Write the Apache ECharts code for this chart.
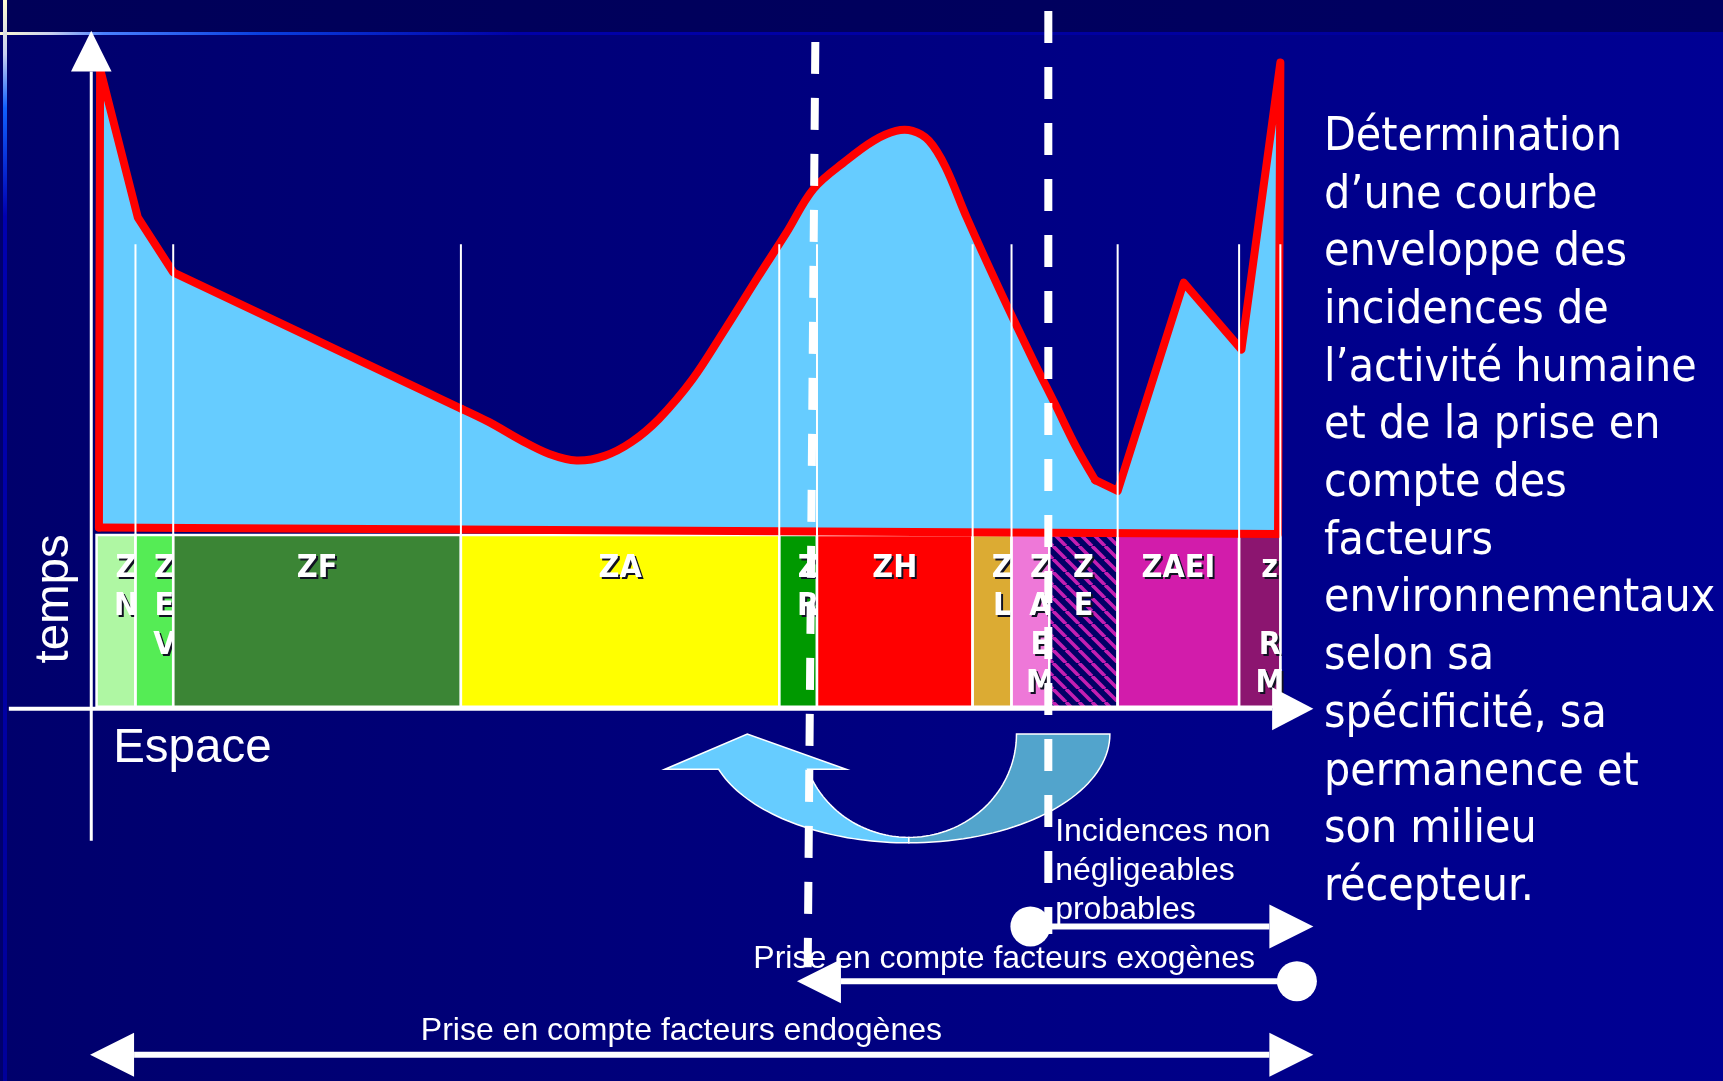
<!DOCTYPE html>
<html>
<head>
<meta charset="utf-8">
<script src="https://cdn.jsdelivr.net/npm/echarts@6/dist/echarts.min.js"></script>
<style>
html,body{margin:0;padding:0;background:#000070;}
#c{width:1723px;height:1081px;}
</style>
</head>
<body>
<div id="c"></div>
<script>
// ===================== DATA =====================
// Enveloppe curve: espace (x) vs incidence / temps (y)
const espace = [0, 0.1, 3.3, 6.3, 30.8, 33.1, 35.9, 38.2, 40.5, 42.9, 45.2, 47.5, 50.3, 53.1, 55.9, 58.3, 60.6, 63.4, 65.7, 67.6, 69.0, 70.4, 71.8, 73.6, 76.4, 79.2, 81.1, 82.9, 84.5, 86.4, 92.0, 96.9, 100.2, 100.0];
const incidence = [0.7, 98.6, 66.9, 55.2, 26.0, 23.2, 19.2, 16.4, 15.0, 16.0, 19.0, 23.9, 32.2, 43.0, 54.2, 63.6, 73.0, 79.1, 83.3, 85.4, 85.4, 83.3, 77.7, 66.9, 51.4, 36.6, 27.0, 17.8, 10.8, 8.5, 53.0, 38.7, 100.0, -0.7];
// index range of the rounded (smooth) part of the enveloppe
const smoothFrom = 4, smoothTo = 28;

// Zones along the espace axis
const zoneNames  = ['ZN', 'ZEV', 'ZF', 'ZA', 'ZR', 'ZH', 'ZL', 'ZAEM', 'ZE', 'ZAEI', 'ZRM'];
const zoneLabels = ['Z\nN', 'Z\nE\nV', 'ZF', 'ZA', 'Z\nR', 'ZH', 'Z\nL', 'Z\nA\nE\nM', 'Z\nE', 'ZAEI', 'z\n\nR\nM'];
const zoneBounds = [-0.2, 3.1, 6.3, 30.7, 57.7, 60.9, 74.1, 77.4, 80.6, 86.4, 96.7, 100.2];

// Ranges of prise en compte (espace extents)
const rangeLabels = ['Incidences non\nnégligeables\nprobables', 'Prise en compte facteurs exogènes', 'Prise en compte facteurs endogènes'];
const rangeFrom = [79.0, 101.6, -0.75];
const rangeTo   = [103.0, 59.2, 103.0];

// Texte descriptif
const descLines = ['Détermination', 'd’une courbe', 'enveloppe des', 'incidences de', 'l’activité humaine', 'et de la prise en', 'compte des', 'facteurs', 'environnementaux', 'selon sa', 'spécificité, sa', 'permanence et', 'son milieu', 'récepteur.'];

// ===================== LAYOUT / STYLE =====================
const X_MIN = -8.39, X_MAX = 137.74, Y_MIN = -117.51, Y_MAX = 113.35;
const BAND_TOP = -0.9, BAND_BOTTOM = -37.6, SEP_TOP = 61.2, LABEL_Y = -8.0;
const AXIS_X = -0.65, AXIS_Y = -38.0;
const zoneColors = ['#aff7a3', '#55ec55', '#3b8535', '#ffff00', '#009900', '#ff0000', '#dcab33', '#ee78d8', 'hatch', '#d21cab', '#8c1570'];
const rangeY = [-84.5, -96.2, -111.9];
const rangeStartCap = ['circle', 'circle', 'arrow'];
const rangeLabelPos = [[81.1, -72.6, 'left'], [55.5, -91.5, 'left'], [49.4, -106.8, 'center']];
const dashLines = [[60.76, 104.4, 60.11, -93.2], [80.52, 111.0, 80.52, -86.1]];
const arc = {cx: 68.69, cy: -43.42, orx: 17.05, ory: 23.23, irx: 9.13, iry: 22.06,
             tipX: 54.99, tipY: -43.42, baseY: -50.93, baseL: 48.0, baseR: 63.37};
const separators = zoneBounds.slice(1).filter((_, i) => i !== 7);

function makeHatch() {
  const P = 13, c = document.createElement('canvas');
  c.width = P; c.height = P;
  const g = c.getContext('2d');
  g.fillStyle = '#000066'; g.fillRect(0, 0, P, P);
  g.strokeStyle = '#c41fb2'; g.lineWidth = 3.6;
  for (let k = -1; k <= 1; k++) { g.beginPath(); g.moveTo(k * P, 0); g.lineTo(k * P + P, P); g.stroke(); }
  return c;
}
const hatchCanvas = makeHatch();

const SANS = '"Liberation Sans", Arial, sans-serif';
const COND = '"DejaVu Sans Condensed", "DejaVu Sans", sans-serif';

const chart = echarts.init(document.getElementById('c'), null, {renderer: 'canvas', width: 1723, height: 1081});

const option = {
  animation: false,
  backgroundColor: {type: 'linear', x: 0, y: 0, x2: 1, y2: 0,
    colorStops: [{offset: 0, color: '#00006c'}, {offset: 1, color: '#000094'}]},
  grid: {left: 0, right: 0, top: 0, bottom: 0},
  xAxis: {type: 'value', min: X_MIN, max: X_MAX, show: false},
  yAxis: {type: 'value', min: Y_MIN, max: Y_MAX, show: false},
  graphic: [
    {type: 'rect', z: 0, shape: {x: 0, y: 0, width: 1723, height: 34},
     style: {fill: {type: 'linear', x: 0, y: 0, x2: 1, y2: 0, colorStops: [{offset: 0, color: '#000058'}, {offset: 1, color: '#000062'}]}}},
    {type: 'rect', z: 0, shape: {x: 0, y: 32, width: 1723, height: 3},
     style: {fill: {type: 'linear', x: 0, y: 0, x2: 1, y2: 0, colorStops: [
       {offset: 0, color: '#fffbd0'}, {offset: 0.03, color: '#c8d0f0'}, {offset: 0.06, color: '#4a80ff'},
       {offset: 0.15, color: '#0a40e0'}, {offset: 0.3, color: '#0000a8'}, {offset: 1, color: '#000098'}]}}},
    {type: 'rect', z: 0, shape: {x: 3, y: 0, width: 4, height: 1081},
     style: {fill: {type: 'linear', x: 0, y: 0, x2: 0, y2: 1, colorStops: [
       {offset: 0, color: '#fffbd0'}, {offset: 0.05, color: '#c8d0f0'}, {offset: 0.1, color: '#1060ff'},
       {offset: 0.2, color: '#0000b0'}, {offset: 1, color: '#00009a'}]}}},
    {type: 'text', z: 0, x: 1324, y: 109,
     style: {text: descLines.join('\n'), fill: '#ffffff', font: '46px ' + COND, lineHeight: 57.7, align: 'left', verticalAlign: 'top'}}
  ],
  series: [
    // zones band
    {
      type: 'custom', silent: true, clip: false,
      data: zoneNames.map((n, i) => [zoneBounds[i], zoneBounds[i + 1], i]),
      renderItem(params, api) {
        const i = api.value(2);
        const a = api.coord([api.value(0), BAND_TOP]);
        const b = api.coord([api.value(1), BAND_BOTTOM]);
        const w = b[0] - a[0], h = b[1] - a[1];
        const fill = zoneColors[i] === 'hatch' ? {image: hatchCanvas, repeat: 'repeat'} : zoneColors[i];
        let cx = (a[0] + b[0]) / 2;
        if (w < 50) cx += 10;
        const ty = api.coord([0, LABEL_Y])[1] - 19;
        const font = 'bold 32px ' + COND;
        return {type: 'group', children: [
          {type: 'rect', shape: {x: a[0], y: a[1], width: w, height: h}, style: {fill: fill, stroke: '#ffffff', lineWidth: 2.5}},
          {type: 'text', x: cx + 2, y: ty + 2, style: {text: zoneLabels[i], fill: '#111122', font: font, align: 'center', verticalAlign: 'top', lineHeight: 38.5}},
          {type: 'text', x: cx, y: ty, style: {text: zoneLabels[i], fill: '#ffffff', font: font, align: 'center', verticalAlign: 'top', lineHeight: 38.5}}
        ]};
      }
    },
    // enveloppe curve
    {
      type: 'custom', silent: true, clip: false, data: [0],
      renderItem(params, api) {
        const pts = espace.map((x, i) => api.coord([x, incidence[i]]));
        const partA = pts.slice(0, smoothFrom + 1);
        const partB = pts.slice(smoothFrom, smoothTo + 1);
        const partC = pts.slice(smoothTo).concat([pts[0]]);
        const red = {stroke: '#ff0000', lineWidth: 8, lineJoin: 'round', lineCap: 'round', fill: null};
        return {type: 'group', children: [
          {type: 'polygon', shape: {points: pts}, style: {fill: '#66ccff'}},
          {type: 'polyline', shape: {points: partA}, style: red},
          {type: 'polyline', shape: {points: partB, smooth: 0.35}, style: red},
          {type: 'polyline', shape: {points: partC}, style: red}
        ]};
      }
    },
    // separators
    {
      type: 'custom', silent: true, clip: false, data: separators.map(x => [x]),
      renderItem(params, api) {
        const a = api.coord([api.value(0), SEP_TOP]), b = api.coord([api.value(0), BAND_BOTTOM]);
        return {type: 'line', shape: {x1: a[0], y1: a[1], x2: b[0], y2: b[1]}, style: {stroke: '#ffffff', lineWidth: 2}};
      }
    },
    // axes + axis names
    {
      type: 'custom', silent: true, clip: false, data: [0],
      renderItem(params, api) {
        const y0 = api.coord([AXIS_X, -66.2]), y1 = api.coord([AXIS_X, 98.1]), yt = api.coord([AXIS_X, 106.8]);
        const hw = api.size([1.72, 0])[0];
        const x0 = api.coord([-7.64, AXIS_Y]), x1 = api.coord([99.5, AXIS_Y]), xt = api.coord([103.0, AXIS_Y]);
        const hh = api.size([0, 4.58])[1];
        const tp = api.coord([-3.73, -14.55]);
        const ep = api.coord([1.21, -46.5]);
        return {type: 'group', children: [
          {type: 'line', shape: {x1: y0[0], y1: y0[1], x2: y1[0], y2: y1[1]}, style: {stroke: '#fff', lineWidth: 3}},
          {type: 'polygon', shape: {points: [yt, [y1[0] - hw, y1[1]], [y1[0] + hw, y1[1]]]}, style: {fill: '#fff'}},
          {type: 'line', shape: {x1: x0[0], y1: x0[1], x2: x1[0], y2: x1[1]}, style: {stroke: '#fff', lineWidth: 4}},
          {type: 'polygon', shape: {points: [xt, [x1[0], x1[1] - hh], [x1[0], x1[1] + hh]]}, style: {fill: '#fff'}},
          {type: 'text', x: tp[0], y: tp[1], rotation: Math.PI / 2,
           style: {text: 'temps', fill: '#fff', font: '47.5px ' + SANS, align: 'center', verticalAlign: 'middle'}},
          {type: 'text', x: ep[0], y: ep[1],
           style: {text: 'Espace', fill: '#fff', font: '47.5px ' + SANS, align: 'left', verticalAlign: 'middle'}}
        ]};
      }
    },
    // curved arrow
    {
      type: 'custom', silent: true, clip: false, data: [0],
      renderItem(params, api) {
        const c = api.coord([arc.cx, arc.cy]);
        const o = api.size([arc.orx, arc.ory]), n = api.size([arc.irx, arc.iry]);
        const ell = (r, t) => [c[0] + r[0] * Math.cos(t), c[1] + r[1] * Math.sin(t)];
        const baseDy = api.coord([0, arc.baseY])[1] - c[1];
        const to = Math.PI - Math.asin(baseDy / o[1]);
        const ti = Math.PI - Math.asin(baseDy / n[1]);
        const N = 40;
        const left = [api.coord([arc.baseL, arc.baseY]), api.coord([arc.tipX, arc.tipY]), api.coord([arc.baseR, arc.baseY])];
        for (let k = 0; k <= N; k++) left.push(ell(n, ti + (Math.PI / 2 - ti) * k / N));
        for (let k = 0; k <= N; k++) left.push(ell(o, Math.PI / 2 + (to - Math.PI / 2) * k / N));
        const right = [];
        for (let k = 0; k <= N; k++) right.push(ell(o, (Math.PI / 2) * k / N));
        for (let k = 0; k <= N; k++) right.push(ell(n, Math.PI / 2 - (Math.PI / 2) * k / N));
        return {type: 'group', children: [
          {type: 'polygon', shape: {points: left}, style: {fill: '#66ccff', stroke: '#ffffff', lineWidth: 1.5}},
          {type: 'polygon', shape: {points: right}, style: {fill: '#52a4cc', stroke: '#ffffff', lineWidth: 1.5}}
        ]};
      }
    },
    // dashed separation lines
    {
      type: 'custom', silent: true, clip: false, data: dashLines,
      renderItem(params, api) {
        const a = api.coord([api.value(0), api.value(1)]), b = api.coord([api.value(2), api.value(3)]);
        return {type: 'line', shape: {x1: a[0], y1: a[1], x2: b[0], y2: b[1]},
          style: {stroke: '#ffffff', lineWidth: 8, lineDash: [32, 24]}};
      }
    },
    // ranges (prise en compte)
    {
      type: 'custom', silent: true, clip: false, data: rangeLabels.map((l, i) => [rangeFrom[i], rangeTo[i], i]),
      renderItem(params, api) {
        const i = api.value(2);
        const p0 = api.coord([api.value(0), rangeY[i]]), p1 = api.coord([api.value(1), rangeY[i]]);
        const dir = Math.sign(p1[0] - p0[0]);
        const L = 44, H = 22;
        const ch = [];
        let sx = p0[0];
        if (rangeStartCap[i] === 'arrow') {
          ch.push({type: 'polygon', shape: {points: [p0, [p0[0] + dir * L, p0[1] - H], [p0[0] + dir * L, p0[1] + H]]}, style: {fill: '#fff'}});
          sx = p0[0] + dir * L;
        }
        ch.push({type: 'line', shape: {x1: sx, y1: p0[1], x2: p1[0] - dir * L, y2: p1[1]}, style: {stroke: '#fff', lineWidth: 6}});
        ch.push({type: 'polygon', shape: {points: [p1, [p1[0] - dir * L, p1[1] - H], [p1[0] - dir * L, p1[1] + H]]}, style: {fill: '#fff'}});
        if (rangeStartCap[i] === 'circle') {
          ch.push({type: 'circle', shape: {cx: p0[0], cy: p0[1], r: 20}, style: {fill: '#fff'}});
        }
        const lp = api.coord([rangeLabelPos[i][0], rangeLabelPos[i][1]]);
        ch.push({type: 'text', x: lp[0], y: lp[1],
          style: {text: rangeLabels[i], fill: '#fff', font: '32px ' + SANS, align: rangeLabelPos[i][2], verticalAlign: 'middle', lineHeight: 39}});
        return {type: 'group', children: ch};
      }
    }
  ]
};
chart.setOption(option);
</script>
</body>
</html>
